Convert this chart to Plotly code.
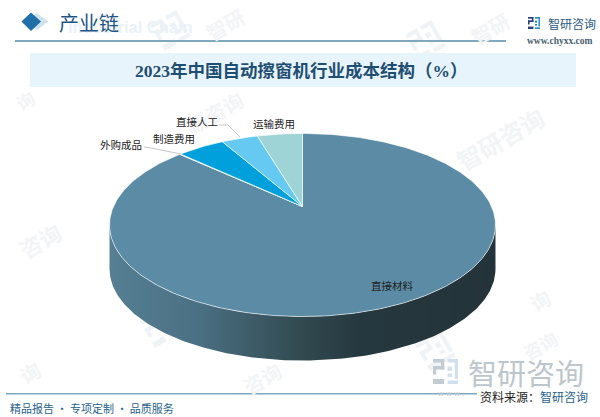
import numpy as np
import plotly.graph_objects as go

# 2023 cost structure, clockwise from 12 o'clock
categories = ['直接材料', '外购成品', '制造费用', '直接人工', '运输费用']
shares = [86.8, 0.1, 4.8, 3.7, 4.6]
slice_colors = ['#5b8ba5', '#eaf2f6', '#00a0dc', '#66c9f2', '#9fd4d6']

title = '2023年中国自动擦窗机行业成本结构（%）'
header = '产业链'
brand = '智研咨询'
site = 'www.chyxx.com'
footer_left = '精品报告 · 专项定制 · 品质服务'
source_label = '资料来源：'

# pie in perspective: apex in pixels, scales, tilt and rim depth
cx, cy = 302.5, 206.5
sx, sy, tilt = 189, 87.8, 0.202
depth = 44


def rim(theta):
    u, v = np.sin(theta), np.cos(theta)
    w = 1 + tilt * v
    return cx + sx * u / w, cy - sy * v / w


fig = go.Figure()

# rim of the pie, only the part facing the viewer
edge = np.arccos(-tilt)
t = np.linspace(edge, 2 * np.pi - edge, 200)
x, y = rim(t)
fig.add_trace(go.Scatter(
    x=np.r_[x, x[::-1]], y=np.r_[y, y[::-1] + depth],
    mode='lines', line=dict(width=0), fill='toself',
    fillgradient=dict(type='horizontal', colorscale=[
        [0, '#567f93'], [0.23, '#4a7083'], [0.5, '#31494f'], [0.65, '#26383f'], [1, '#233339']]),
    hoverinfo='skip', showlegend=False))

# top face
ends = np.cumsum(shares) / sum(shares) * 2 * np.pi
starts = np.r_[0, ends[:-1]]
for name, a, b, color in zip(categories, starts, ends, slice_colors):
    t = np.linspace(a, b, max(3, int((b - a) * 60)))
    x, y = rim(t)
    fig.add_trace(go.Scatter(
        x=np.r_[cx, x, cx], y=np.r_[cy, y, cy], name=name,
        mode='lines', line=dict(color='rgba(255,255,255,0.75)', width=0.8),
        fill='toself', fillcolor=color, showlegend=False))

shapes = []


def box(x0, y0, x1, y1, color, layer='below'):
    shapes.append(dict(type='rect', x0=x0, y0=y0, x1=x1, y1=y1, layer=layer,
                       fillcolor=color, line_width=0))


logo_left = [(0, 0, 0.45, 0.14), (0, 0.28, 0.45, 0.42), (0.32, 0, 0.45, 0.42),
             (0, 0.28, 0.13, 0.62), (0, 0.8, 0.45, 1)]
logo_right = [(0.58, 0, 1, 0.14), (0.87, 0, 1, 0.8), (0.58, 0.86, 1, 1),
              (0.58, 0.3, 0.76, 0.48), (0.58, 0.58, 0.76, 0.72)]


def logo(x0, y0, s, c1, c2):
    for a, b, c, d in logo_left:
        box(x0 + a * s, y0 + b * s, x0 + c * s, y0 + d * s, c1)
    for a, b, c, d in logo_right:
        box(x0 + a * s, y0 + b * s, x0 + c * s, y0 + d * s, c2)


# watermark version of the logo, tilted
def tilted_logo(x0, y0, s, color, deg=-30):
    co, si = np.cos(np.radians(deg)), np.sin(np.radians(deg))
    for a, b, c, d in logo_left + logo_right:
        pts = [(a, b), (c, b), (c, d), (a, d)]
        pts = [(x0 + s * (p * co - q * si), y0 + s * (p * si + q * co)) for p, q in pts]
        path = 'M ' + ' L '.join('%.1f %.1f' % p for p in pts) + ' Z'
        shapes.append(dict(type='path', path=path, fillcolor=color, line_width=0, layer='below'))


for lx, ly, ls in [(150, 25, 30), (405, 35, 30), (415, 345, 30), (140, 322, 30)]:
    tilted_logo(lx, ly, ls, '#f0f3f6')

box(30, 53, 576, 87, '#e8f4fb')
box(15, 40, 506, 42, '#7fa8bf')
box(6, 393, 477, 394.5, '#7fa8bf')
logo(528, 17, 12, '#27407c', '#2a8fd0')
logo(433, 359, 25, '#c3ccd3', '#cfe0ee')

# header diamonds
shapes.append(dict(type='path', path='M 37 13 L 48 21.5 L 37 30 L 26 21.5 Z',
                   fillcolor='#cfe3ef', line_width=0, layer='below'))
shapes.append(dict(type='path', path='M 31 12.5 L 41 21.5 L 31 31 L 21.5 21.5 Z',
                   fillcolor='#1f6fa8', line_width=0, layer='below'))

# leader lines
fig.add_trace(go.Scatter(x=[144, 151, 181], y=[147, 148, 154], mode='lines',
                         line=dict(color='#b8b8b8', width=0.8), hoverinfo='skip', showlegend=False))
fig.add_trace(go.Scatter(x=[219, 228, 240], y=[125, 125, 137], mode='lines',
                         line=dict(color='#b8b8b8', width=0.8), hoverinfo='skip', showlegend=False))

cjk = 'Noto Sans CJK SC'
notes = []


def note(x, y, text, size, color, bold=False, family=cjk, angle=0, anchor='center'):
    notes.append(dict(x=x, y=y, text='<b>%s</b>' % text if bold else text, showarrow=False,
                      xref='x', yref='y', xanchor=anchor, yanchor='middle', textangle=angle,
                      font=dict(size=size, color=color, family=family)))


# watermarks, faint and rotated
for wx, wy, wt, ws in [(225, 24, '智研', 20), (490, 28, '智研', 20), (500, 138, '智研咨询', 24),
                       (215, 112, '研咨询', 20), (40, 240, '咨询', 22), (30, 372, '询', 20),
                       (262, 378, '咨询', 20), (540, 300, '询', 20), (25, 100, '询', 18),
                       (540, 345, '咨询', 18)]:
    note(wx, wy, wt, ws, '#f2f4f6', bold=True, angle=-30)

note(130, 27, 'Industrial Chain', 16.5, '#e9f2f8', bold=True, family='Liberation Sans')
note(57, 22, header, 20, '#1f5585', anchor='left')
note(301, 71, title, 17.5, '#1f4e73', bold=True, family='Liberation Serif, ' + cjk)
note(572, 23, brand, 12, '#2b5a80')
note(560, 41, site, 9.5, '#4a5f6e', bold=True, family='Liberation Serif')

note(121, 144, categories[1], 10.5, '#222222')
note(174, 138, categories[2], 10.5, '#222222')
note(197, 121, categories[3], 10.5, '#222222')
note(274, 123, categories[4], 10.5, '#222222')
note(392, 285, categories[0], 10.5, '#222222')

note(526, 372, brand, 29, '#bcc6cc')
note(435, 393, 'w w w .', 8, '#c3ccd3', anchor='left', family='Liberation Sans')
note(590, 396, '%s<span style="color:#1f5f8a">%s</span>' % (source_label, brand), 12, '#222222', anchor='right')
note(8, 408, footer_left, 11, '#1f5f8a', anchor='left')

fig.update_layout(
    width=600, height=417, margin=dict(l=0, r=0, t=0, b=0),
    paper_bgcolor='white', plot_bgcolor='white',
    xaxis=dict(range=[0, 600], visible=False, fixedrange=True),
    yaxis=dict(range=[417, 0], visible=False, fixedrange=True),
    shapes=shapes, annotations=notes)

# page margin would push the figure off the 600x417 window
fig.write_html("out.html", config=dict(displayModeBar=False),
               post_script="document.body.style.margin='0';document.documentElement.style.overflow='hidden';")
